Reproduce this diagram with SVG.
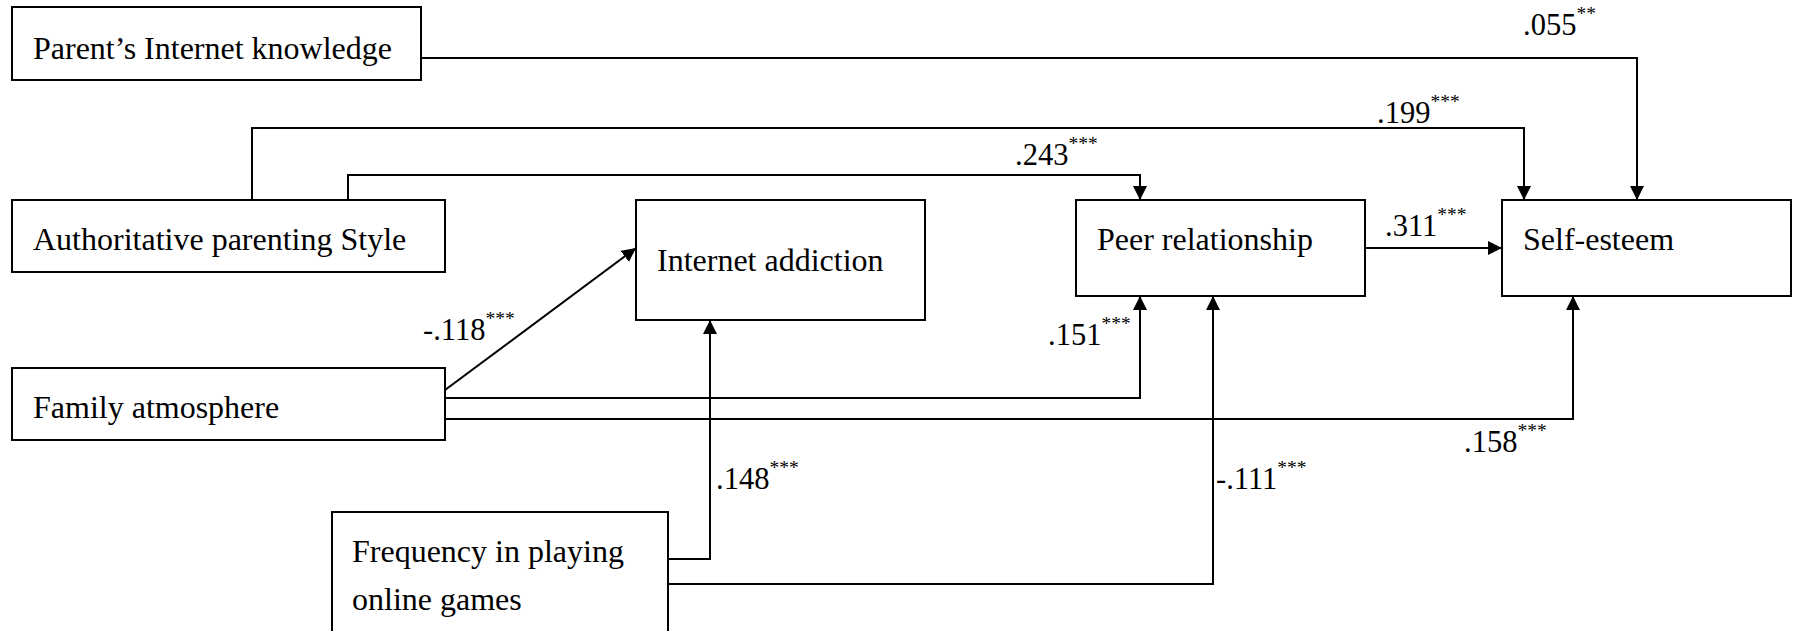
<svg xmlns="http://www.w3.org/2000/svg" width="1795" height="631" viewBox="0 0 1795 631">
<style>
.box{fill:#fff;stroke:#000;stroke-width:2}
.t{font-family:"Liberation Serif","Times New Roman",serif;font-size:32px;fill:#000}
.lbl{font-family:"Liberation Serif","Times New Roman",serif;font-size:30.5px;fill:#000}
.sup{font-size:19.5px}
.c{fill:none;stroke:#000;stroke-width:2}
</style>
<defs>
<marker id="ah" markerUnits="userSpaceOnUse" markerWidth="14" markerHeight="14" refX="14" refY="7" orient="auto" viewBox="0 0 14 14">
<path d="M0,0 L14,7 L0,14 z" fill="#000"/>
</marker>
</defs>
<rect width="1795" height="631" fill="#fff"/>
<g id="connectors">
<path class="c" d="M421,58 H1637 V200" marker-end="url(#ah)"/>
<path class="c" d="M252,200 V128 H1524 V200" marker-end="url(#ah)"/>
<path class="c" d="M348,200 V175 H1140 V200" marker-end="url(#ah)"/>
<path class="c" d="M1365,248 H1502" marker-end="url(#ah)"/>
<path class="c" d="M445,390 L636,248" marker-end="url(#ah)"/>
<path class="c" d="M445,398 H1140 V296" marker-end="url(#ah)"/>
<path class="c" d="M445,419 H1573 V296" marker-end="url(#ah)"/>
<path class="c" d="M668,559 H710 V320" marker-end="url(#ah)"/>
<path class="c" d="M668,584 H1213 V296" marker-end="url(#ah)"/>
<text class="lbl" x="1523" y="35"><tspan>.055</tspan><tspan class="sup" dy="-15">**</tspan></text>
<text class="lbl" x="1377" y="123"><tspan>.199</tspan><tspan class="sup" dy="-15">***</tspan></text>
<text class="lbl" x="1015" y="165"><tspan>.243</tspan><tspan class="sup" dy="-15">***</tspan></text>
<text class="lbl" x="1385" y="236"><tspan>.311</tspan><tspan class="sup" dy="-15">***</tspan></text>
<text class="lbl" x="423" y="340"><tspan>-.118</tspan><tspan class="sup" dy="-15">***</tspan></text>
<text class="lbl" x="1048" y="345"><tspan>.151</tspan><tspan class="sup" dy="-15">***</tspan></text>
<text class="lbl" x="1464" y="452"><tspan>.158</tspan><tspan class="sup" dy="-15">***</tspan></text>
<text class="lbl" x="716" y="489"><tspan>.148</tspan><tspan class="sup" dy="-15">***</tspan></text>
<text class="lbl" x="1216" y="489"><tspan>-.111</tspan><tspan class="sup" dy="-15">***</tspan></text>
</g>
<g id="parent-knowledge">
<rect class="box" x="12" y="7" width="409" height="73"/>
<text class="t" x="33" y="59">Parent’s Internet knowledge</text>
</g>
<g id="authoritative">
<rect class="box" x="12" y="200" width="433" height="72"/>
<text class="t" x="33" y="250">Authoritative parenting Style</text>
</g>
<g id="internet-addiction">
<rect class="box" x="636" y="200" width="289" height="120"/>
<text class="t" x="657" y="271">Internet addiction</text>
</g>
<g id="peer">
<rect class="box" x="1076" y="200" width="289" height="96"/>
<text class="t" x="1097" y="250">Peer relationship</text>
</g>
<g id="self-esteem">
<rect class="box" x="1502" y="200" width="289" height="96"/>
<text class="t" x="1523" y="250">Self-esteem</text>
</g>
<g id="family">
<rect class="box" x="12" y="368" width="433" height="72"/>
<text class="t" x="33" y="418">Family atmosphere</text>
</g>
<g id="frequency">
<rect class="box" x="332" y="512" width="336" height="130"/>
<text class="t" x="352" y="562">Frequency in playing</text>
<text class="t" x="352" y="610">online games</text>
</g>
</svg>
